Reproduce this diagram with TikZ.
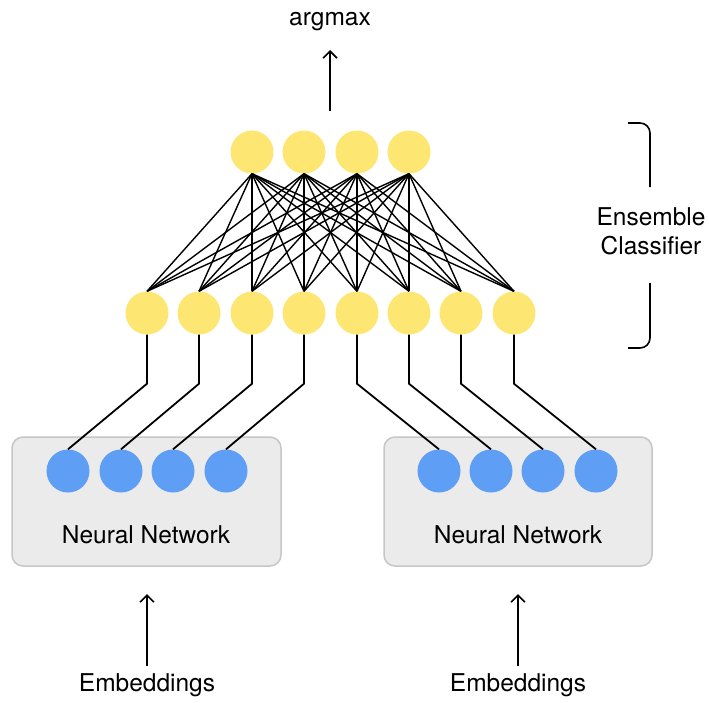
\documentclass[tikz,border=0pt]{standalone}
\usepackage{fontspec}
\setmainfont{TeX Gyre Heros}
\usetikzlibrary{arrows.meta}
\definecolor{unitYellow}{HTML}{FEE672}
\definecolor{unitBlue}{HTML}{5E9EF4}
\definecolor{boxFill}{HTML}{EBEBEB}
\definecolor{boxEdge}{HTML}{C6C6C6}
\tikzset{
  yunit/.style={circle,fill=unitYellow,minimum size=43pt,inner sep=0pt},
  bunit/.style={circle,fill=unitBlue,minimum size=43pt,inner sep=0pt},
  nnbox/.style={draw=boxEdge,fill=boxFill,line width=1.5pt,rounded corners=11pt},
  lbl/.style={font=\fontsize{24.5}{29}\selectfont,inner sep=0pt},
  dense/.style={line width=1.4pt,black},
  wire/.style={line width=1.8pt,black},
  uparrow/.style={line width=1.8pt,-{Straight Barb[length=7pt,width=14pt,line width=1.6pt]}},
  brace/.style={line width=1.6pt,black,rounded corners=10pt}
}
\begin{document}
\begin{tikzpicture}[x=1pt,y=-1pt]
\useasboundingbox (0,0) rectangle (709,702);

% network boxes
\node[nnbox,minimum width=269pt,minimum height=129pt] (boxL) at (146.5,501.5) {};
\node[nnbox,minimum width=268pt,minimum height=129pt] (boxR) at (518,501.5) {};
\node[lbl] (nnL) at (146,535) {Neural Network};
\node[lbl] (nnR) at (518,535) {Neural Network};

% blue output units of each network
\foreach \i/\x in {1/68,2/121,3/173,4/226,5/439,6/491,7/543,8/596}
  \node[bunit] (b\i) at (\x,471) {};

% ensemble layers
\foreach \i/\x in {1/252,2/304,3/357,4/409}
  \node[yunit] (t\i) at (\x,152) {};
\foreach \i/\x in {1/147,2/199,3/252,4/304,5/357,6/409,7/461,8/514}
  \node[yunit] (m\i) at (\x,313) {};

% fully connected layer
\foreach \i in {1,...,4}
  \foreach \j in {1,...,8}
    \draw[dense] (t\i.south) -- (m\j.north);

% network outputs feeding the ensemble
\foreach \j in {1,...,8}
  \draw[wire] (m\j.south) -- ++(0,49) -- (b\j.north);

% output arrow
\coordinate (outbase) at (330,111);
\coordinate (outtip) at (330,50);
\draw[uparrow] (outbase) -- (outtip);
\node[lbl] (argmax) at (330,22) {argmax};

% input arrows
\coordinate (inL) at (147,666);
\coordinate (inR) at (518,666);
\draw[uparrow] (inL) -- (147,594);
\draw[uparrow] (inR) -- (518,594);
\node[lbl] (embL) at (147,685) {Embeddings};
\node[lbl] (embR) at (518,685) {Embeddings};

% bracket for the ensemble part
\draw[brace] (628,123) -- (650,123) -- (650,187);
\draw[brace] (650,283) -- (650,348) -- (628,348);
\node[lbl,align=center] (ens) at (651,231) {Ensemble\\Classifier};
\end{tikzpicture}
\end{document}
